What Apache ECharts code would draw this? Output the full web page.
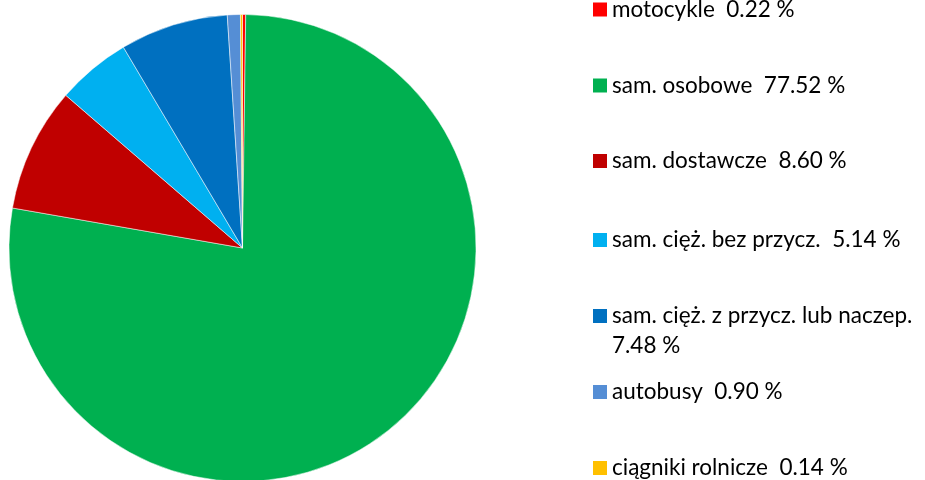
<!DOCTYPE html>
<html><head><meta charset="utf-8">
<script src="https://cdn.jsdelivr.net/npm/echarts@6/dist/echarts.min.js"></script>
<style>html,body{margin:0;padding:0;background:#fff}#c{width:925px;height:480px}</style>
</head><body><div id="c"></div>
<script>
const categories = ['motocykle','sam. osobowe','sam. dostawcze','sam. cięż. bez przycz.','sam. cięż. z przycz. lub naczep.','autobusy','ciągniki rolnicze'];
const values = [0.22, 77.52, 8.60, 5.14, 7.48, 0.90, 0.14];
const colors = ['#FF0000','#00B050','#C00000','#00B0F0','#0070C0','#558ED5','#FFC000'];
const legendTops = [-5.5, 70.5, 146, 225, 301, 377, 453];
const wrapped = [false,false,false,false,true,false,false];

const chart = echarts.init(document.getElementById('c'));
const font = 'Lato, "Open Sans", sans-serif';
const legends = categories.map((name, i) => ({
  data: [{name: name, icon: wrapped[i] ? 'path://M0 0H14V14H0Z M0 44H0.01V44.01H0Z' : 'rect'}],
  orient: 'vertical', left: 593, top: legendTops[i], padding: 0,
  itemWidth: 14, itemHeight: wrapped[i] ? 44.01 : 14,
  itemStyle: {borderWidth: 0},
  selectedMode: false,
  textStyle: {fontFamily: font, fontSize: 22.5, color: '#000', lineHeight: 30},
  formatter: n => n + (wrapped[i] ? '\n' : '  ') + values[i].toFixed(2) + ' %'
}));
chart.setOption({
  animation: false,
  color: colors,
  legend: legends,
  series: [{
    type: 'pie', center: [242.5, 248], radius: 233.5, startAngle: 90, clockwise: true,
    label: {show: false}, labelLine: {show: false},
    itemStyle: {borderColor: '#fff', borderWidth: 0.5},
    emphasis: {disabled: true},
    data: categories.map((n, i) => ({name: n, value: values[i]}))
  }]
});
</script></body></html>
